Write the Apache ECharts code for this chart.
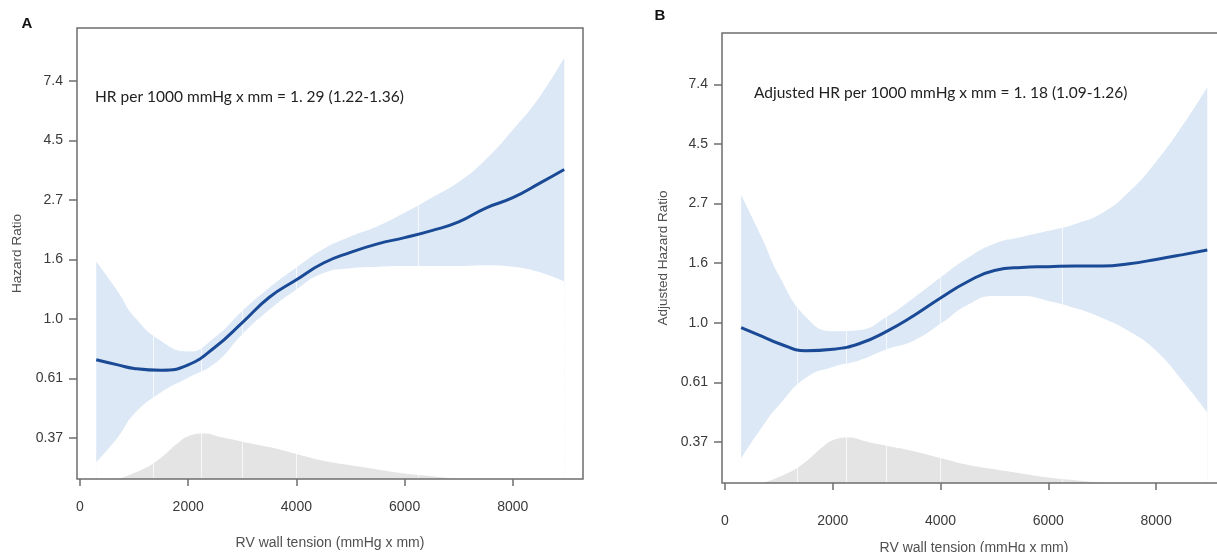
<!DOCTYPE html>
<html>
<head>
<meta charset="utf-8">
<script src="https://cdn.jsdelivr.net/npm/echarts@6.0.0/dist/echarts.min.js"></script>
<style>
  html, body { margin: 0; padding: 0; background: #fff; }
  #chart { width: 1217px; height: 552px; }
</style>
</head>
<body>
<div id="chart"></div>
<script>
// RV wall tension (mmHg x mm) where the curves were read
const tension = [300, 700, 1000, 1500, 2000, 2500, 3000, 3500, 4000, 4500, 5000, 5500, 6000, 6500, 7000, 7500, 8000, 8500, 8950];

// A: hazard ratio + 95% CI
const hrA    = [0.71, 0.68, 0.66, 0.65, 0.68, 0.79, 0.97, 1.20, 1.39, 1.60, 1.75, 1.88, 1.98, 2.10, 2.26, 2.54, 2.77, 3.13, 3.51];
const upperA = [1.62, 1.26, 1.02, 0.83, 0.76, 0.86, 1.07, 1.30, 1.54, 1.80, 2.00, 2.18, 2.44, 2.77, 3.16, 3.82, 4.90, 6.49, 8.98];
const lowerA = [0.30, 0.37, 0.45, 0.54, 0.61, 0.69, 0.88, 1.08, 1.28, 1.47, 1.53, 1.55, 1.56, 1.56, 1.56, 1.57, 1.55, 1.48, 1.37];

// B: adjusted hazard ratio + 95% CI
const hrB    = [0.96, 0.89, 0.84, 0.79, 0.80, 0.84, 0.93, 1.06, 1.23, 1.41, 1.55, 1.59, 1.60, 1.61, 1.61, 1.64, 1.70, 1.77, 1.84];
const upperB = [2.92, 2.01, 1.49, 1.05, 0.93, 0.94, 1.05, 1.23, 1.46, 1.72, 1.94, 2.05, 2.16, 2.29, 2.51, 3.00, 3.86, 5.26, 7.21];
const lowerB = [0.32, 0.42, 0.50, 0.63, 0.69, 0.73, 0.80, 0.86, 0.99, 1.16, 1.25, 1.25, 1.20, 1.13, 1.04, 0.93, 0.79, 0.61, 0.47];

// distribution of RV wall tension (relative density, grey area)
const densityX = [700, 1000, 1400, 1800, 2000, 2300, 2600, 3000, 3500, 4000, 4500, 5000, 5500, 6000, 6500, 7000];
const density  = [0, 0.13, 0.38, 0.78, 0.94, 1.0, 0.92, 0.82, 0.70, 0.55, 0.40, 0.30, 0.21, 0.12, 0.06, 0];

const xTicks = [0, 2000, 4000, 6000, 8000];
const yTicks = [-1, -0.5, 0, 0.5, 1, 1.5, 2]; // log(HR)
const yTickLabels = ["0.37", "0.61", "1.0", "1.6", "2.7", "4.5", "7.4"];
const knots = [1350, 2250, 3000, 4000, 6250];

const BAND = "#dce8f5";
const LINE = "#1a4a96";
const GREY = "#e4e4e4";
const FRAME = "#6e6e6e";
const TXT = "#3a3a3a";

const log = (v) => Math.log(v);
const pairs = (xs, ys) => xs.map((x, i) => [x, ys[i]]);

function xAxisFor(grid, margin, gap) {
  return {
    type: "value",
    gridIndex: grid,
    min: -55,
    max: 9297,
    name: "RV wall tension (mmHg x mm)",
    nameLocation: "middle",
    nameGap: gap,
    nameTextStyle: { fontFamily: "Liberation Sans", fontSize: 14, color: "#505050" },
    axisLine: { show: false, onZero: false },
    axisTick: { show: true, length: 7, customValues: xTicks, lineStyle: { color: FRAME, width: 1.5 } },
    axisLabel: {
      customValues: xTicks,
      margin: margin,
      fontFamily: "Liberation Sans",
      fontSize: 14,
      color: TXT,
      formatter: (v) => String(v),
    },
    splitLine: { show: false },
  };
}

function yAxisFor(grid, name, max, gap) {
  return {
    type: "value",
    gridIndex: grid,
    min: -1.345,
    max: max,
    name: name,
    nameLocation: "middle",
    nameGap: gap,
    nameTextStyle: { fontFamily: "Liberation Sans", fontSize: 13.5, color: "#505050" },
    axisLine: { show: false, onZero: false },
    axisTick: { show: true, length: 8, customValues: yTicks, lineStyle: { color: FRAME, width: 1.5 } },
    axisLabel: {
      customValues: yTicks,
      margin: 14,
      fontFamily: "Liberation Sans",
      fontSize: 14,
      color: TXT,
      formatter: (v) => yTickLabels[yTicks.indexOf(v)],
    },
    splitLine: { show: false },
  };
}

function densityAxis(grid) {
  return { type: "value", gridIndex: grid, min: 0, max: 9.9, show: false };
}

// band = blue area under the upper limit, then white area under the lower limit
function panelSeries(idx, hr, upper, lower) {
  const common = { type: "line", xAxisIndex: idx, yAxisIndex: idx, smooth: true, symbol: "none", silent: true };
  return [
    {
      ...common,
      data: pairs(tension, upper.map(log)),
      lineStyle: { width: 0 },
      areaStyle: { color: BAND, opacity: 1, origin: "start" },
      z: 1,
    },
    {
      ...common,
      data: pairs(tension, lower.map(log)),
      lineStyle: { width: 0 },
      areaStyle: { color: "#ffffff", opacity: 1, origin: "start" },
      z: 2,
    },
    {
      ...common,
      yAxisIndex: idx + 2,
      data: pairs(densityX, density),
      lineStyle: { width: 0 },
      areaStyle: { color: GREY, opacity: 1, origin: "start" },
      markLine: {
        silent: true,
        symbol: "none",
        label: { show: false },
        lineStyle: { color: "#ffffff", width: 1, type: "solid", opacity: 0.7 },
        data: knots.map((k) => ({ xAxis: k })),
      },
      z: 3,
    },
    {
      ...common,
      data: pairs(tension, hr.map(log)),
      lineStyle: { color: LINE, width: 3 },
      z: 5,
    },
  ];
}

const chart = echarts.init(document.getElementById("chart"));
const option = {
  animation: false,
  backgroundColor: "#fff",
  grid: [
    { left: 77, top: 28, width: 506, height: 451, outerBoundsMode: "none", show: true, borderColor: FRAME, borderWidth: 1.5, z: 10 },
    { left: 722, top: 33, width: 504, height: 450, outerBoundsMode: "none", show: true, borderColor: FRAME, borderWidth: 1.5, z: 10 },
  ],
  xAxis: [xAxisFor(0, 21, 57), xAxisFor(1, 31, 58)],
  yAxis: [
    yAxisFor(0, "Hazard Ratio", 2.445, 53),
    yAxisFor(1, "Adjusted Hazard Ratio", 2.43, 52),
    densityAxis(0),
    densityAxis(1),
  ],
  series: [...panelSeries(0, hrA, upperA, lowerA), ...panelSeries(1, hrB, upperB, lowerB)],
  graphic: [
    { type: "text", z: 100, x: 27, y: 24, style: { text: "A", font: "bold 15px 'Liberation Sans'", fill: "#111", align: "center", verticalAlign: "middle" } },
    { type: "text", z: 100, x: 660, y: 16, style: { text: "B", font: "bold 15px 'Liberation Sans'", fill: "#111", align: "center", verticalAlign: "middle" } },
    { type: "text", z: 100, x: 95, y: 97, style: { text: "HR per 1000 mmHg x mm = 1. 29 (1.22-1.36)", font: "15.5px Lato", fill: "#222", verticalAlign: "middle" } },
    { type: "text", z: 100, x: 754, y: 93, style: { text: "Adjusted HR per 1000 mmHg x mm = 1. 18 (1.09-1.26)", font: "15.5px Lato", fill: "#222", verticalAlign: "middle" } },
  ],
};
chart.setOption(option);
window.addEventListener("resize", () => {
  chart.resize();
});
</script>
</body>
</html>
